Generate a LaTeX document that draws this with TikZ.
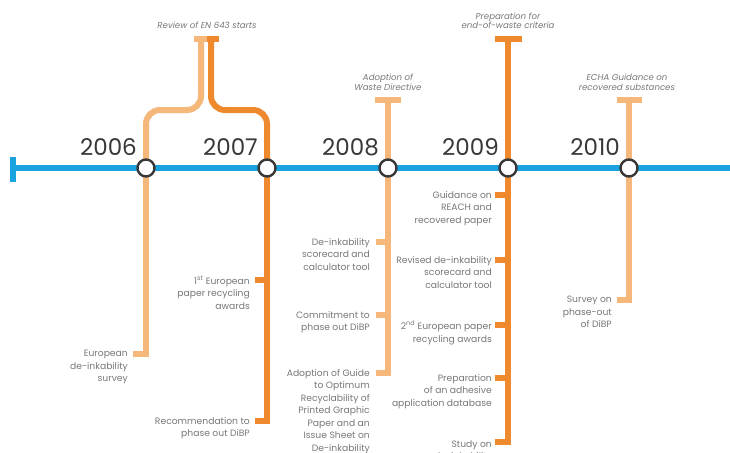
\documentclass[tikz,border=0pt]{standalone}
\usepackage{fontspec}
\setmainfont{Poppins}
\usetikzlibrary{positioning,calc}
\definecolor{lineblue}{HTML}{1BA3DF}
\definecolor{lightor}{HTML}{F5B77A}
\definecolor{darkor}{HTML}{EE8A2D}
\definecolor{txtgray}{HTML}{777777}
\definecolor{yeargray}{HTML}{383838}

\begin{document}
\begin{tikzpicture}[x=1pt,y=-1pt,
  light/.style={draw=lightor,line width=6pt},
  dark/.style={draw=darkor,line width=6pt},
  station/.style={circle,draw=yeargray,fill=white,line width=2.4pt,minimum size=17pt,inner sep=0pt},
  year/.style={font=\fontsize{23}{23}\selectfont,text=yeargray,anchor=base east,inner sep=0pt},
  event/.style={font=\fontsize{9.2}{12.5}\selectfont,text=txtgray,align=right,anchor=north east,inner sep=0pt},
  caption/.style={font=\itshape\fontsize{8.6}{9.8}\selectfont,text=txtgray,align=center,anchor=base,inner sep=0pt}]
\useasboundingbox (0,0) rectangle (730,452);
\coordinate (c2006) at (146,168);
\coordinate (c2007) at (267,168);
\coordinate (c2008) at (388,168);
\coordinate (c2009) at (508,168);
\coordinate (c2010) at (629,168);
\coordinate (start) at (13,168);
\coordinate (end) at (730,168);

% fork up to EN 643
\coordinate (en643) at (207,39);
\draw[light,rounded corners=14pt] (c2006) -- (146,110) -- (201,110) -- (201,39);
\draw[dark,rounded corners=14pt] (c2007) -- (267,110) -- (211,110) -- (211,39);
\draw[light] (194,39) -- (en643);
\draw[dark] (en643) -- (219,39);
\node[caption] (cen643) at ($(en643)+(0,-10)$) {Review of EN 643 starts};

% 2006
\coordinate (b2006) at (146,354);
\draw[light] (c2006) -- (b2006) -- ++(-13,0);
\node[event] (e2006a) at ($(b2006)+(-18,-4)$) {European\\de-inkability\\survey};

% 2007
\coordinate (b2007) at (267,421);
\coordinate (m2007) at (267,280);
\draw[dark] (c2007) -- (b2007) -- ++(-12,0);
\draw[dark] (m2007) -- ++(-12,0);
\node[event] (e2007a) at ($(m2007)+(-17,-4)$) {1\textsuperscript{st} European\\paper recycling\\awards};
\node[event] (e2007b) at ($(b2007)+(-17,-4)$) {Recommendation to\\phase out DiBP};

% 2008
\coordinate (t2008) at (388,100);
\coordinate (b2008) at (388,373);
\draw[light] (c2008) -- (t2008);
\draw[light] ($(t2008)+(-13,0)$) -- ($(t2008)+(13,0)$);
\node[caption] (cap2008) at ($(t2008)+(0,-10)$) {Adoption of\\Waste Directive};
\draw[light] (c2008) -- (b2008) -- ++(-12,0);
\foreach \t/\txt in {242/{De-inkability\\scorecard and\\calculator tool},315/{Commitment to\\phase out DiBP}}{
  \draw[light] (388,\t) -- ++(-12,0);
  \node[event] at (370,\t-4) {\txt};
}
\node[event] (e2008c) at ($(b2008)+(-18,-4)$) {Adoption of Guide\\to Optimum\\Recyclability of\\Printed Graphic\\Paper and an\\Issue Sheet on\\De-inkability};

% 2009
\coordinate (t2009) at (508,39);
\coordinate (b2009) at (508,442);
\draw[dark] (c2009) -- (t2009);
\draw[dark] ($(t2009)+(-13,0)$) -- ($(t2009)+(14,0)$);
\node[caption] (cap2009) at ($(t2009)+(0,-10)$) {Preparation for\\end-of-waste criteria};
\draw[dark] (c2009) -- (b2009) -- ++(-13,0);
\foreach \t/\txt in {195/{Guidance on\\REACH and\\recovered paper},
    260/{Revised de-inkability\\scorecard and\\calculator tool},
    325/{2\textsuperscript{nd} European paper\\recycling awards},
    378/{Preparation\\of an adhesive\\application database}}{
  \draw[dark] (508,\t) -- ++(-13,0);
  \node[event] at (492,\t-4) {\txt};
}
\node[event] (e2009e) at ($(b2009)+(-16,-2)$) {Study on\\de-inkability};

% 2010
\coordinate (t2010) at (629,100);
\coordinate (b2010) at (629,300);
\draw[light] (c2010) -- (t2010);
\draw[light] ($(t2010)+(-12,0)$) -- ($(t2010)+(13,0)$);
\node[caption] (cap2010) at ($(t2010)+(-2,-10)$) {ECHA Guidance on\\recovered substances};
\draw[light] (c2010) -- (b2010) -- ++(-12,0);
\node[event] (e2010a) at ($(b2010)+(-17,-4)$) {Survey on\\phase-out\\of DiBP};

% timeline
\draw[lineblue,line width=6pt] (start) -- (end);
\draw[lineblue,line width=6pt] (13,157) -- (13,182);
\foreach \y in {2006,2007,2008,2009,2010}{
  \node[station] (y\y) at (c\y) {};
  \node[year] (l\y) at ($(c\y)+(-9,-13)$) {\y};
}
\end{tikzpicture}
\end{document}
